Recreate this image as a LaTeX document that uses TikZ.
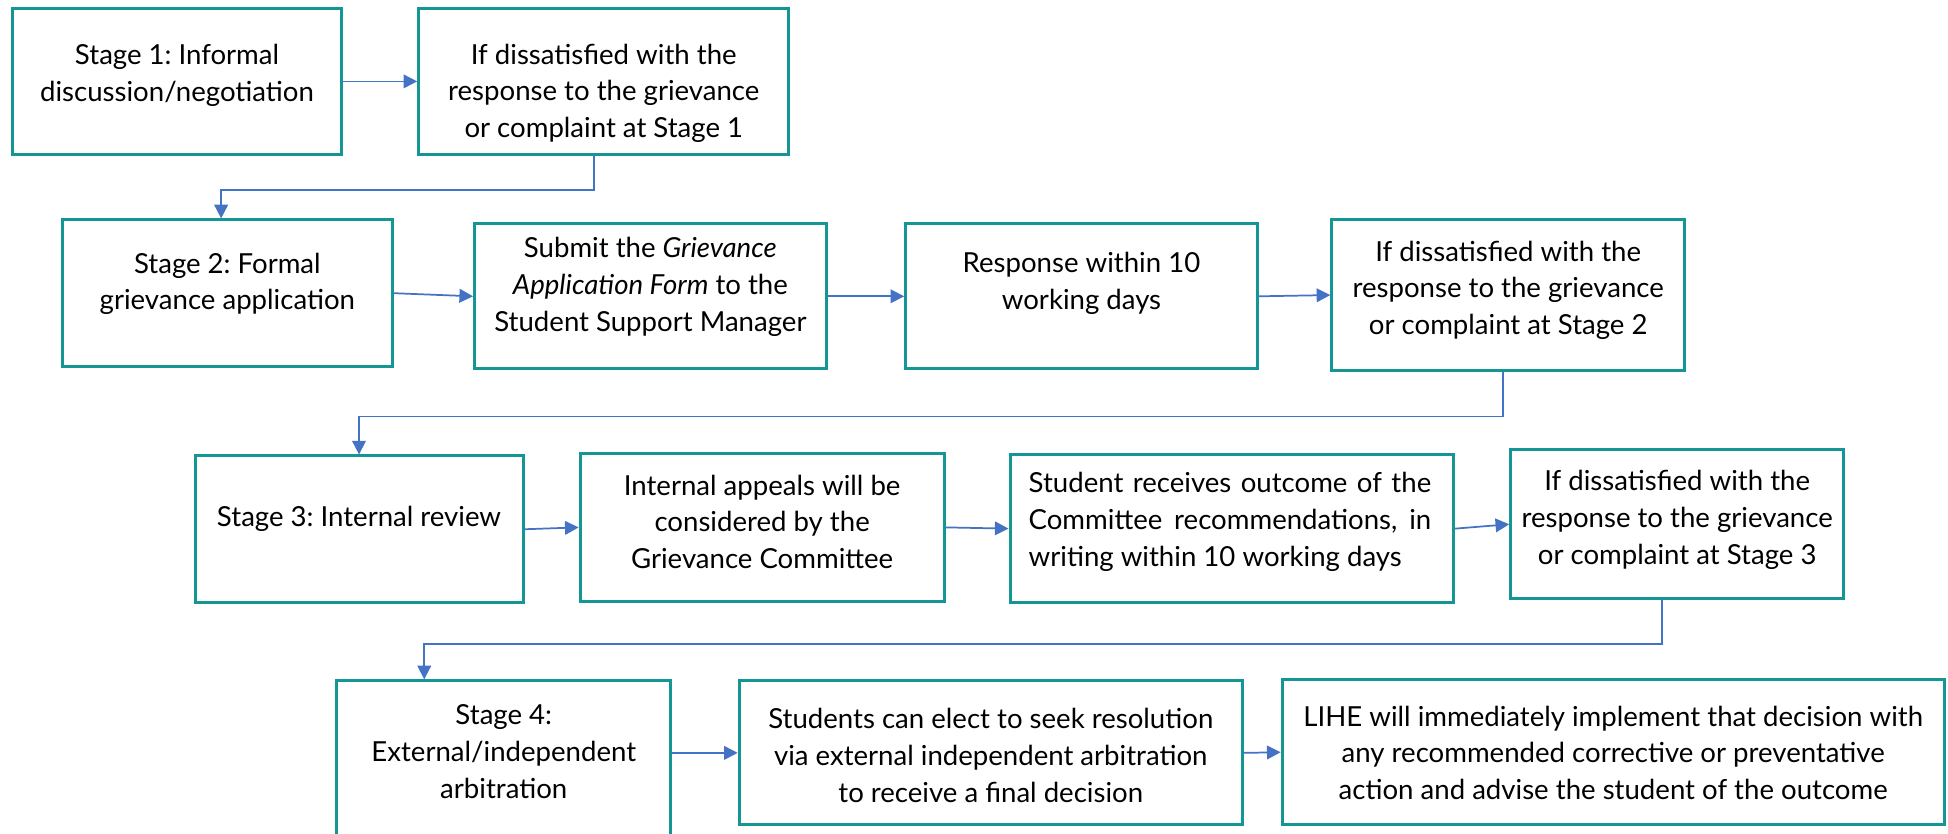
\documentclass[tikz,border=0pt]{standalone}
\usepackage{fontspec}
\setmainfont{Lato}
\usetikzlibrary{arrows.meta}
\definecolor{boxteal}{RGB}{20,150,150}
\definecolor{arrblue}{RGB}{68,114,196}
\begin{document}
\frenchspacing
\begin{tikzpicture}[x=0.5pt,y=-0.5pt,
  box/.style={draw=boxteal,line width=1.2pt,fill=white,inner sep=0pt},
  txt/.style={align=center,inner sep=0pt,font=\fontsize{11.1}{14.75}\selectfont},
  arr/.style={draw=arrblue,line width=0.7pt,-{Triangle[length=5.5pt,width=5.5pt]}}]
\useasboundingbox (0,0) rectangle (1568,671);
% boxes
\node[box,minimum width=132.5pt,minimum height=58.5pt] (b1) at (142.5,65.5) {};
\node[box,minimum width=149pt,minimum height=58.5pt] (b2) at (486,65.5) {};
\node[box,minimum width=133pt,minimum height=59pt] (b3) at (183,236) {};
\node[box,minimum width=141.5pt,minimum height=58.5pt] (b4) at (523.5,238.5) {};
\node[box,minimum width=141.5pt,minimum height=58.5pt] (b5) at (870.5,238.5) {};
\node[box,minimum width=142pt,minimum height=60.5pt] (b6) at (1214,237.5) {};
\node[box,minimum width=132pt,minimum height=59pt] (b7) at (289,426) {};
\node[box,minimum width=146.5pt,minimum height=59.5pt] (b8) at (613.5,424.5) {};
\node[box,minimum width=178.5pt,minimum height=59.5pt] (b9) at (991.5,425.5) {};
\node[box,minimum width=134pt,minimum height=60pt] (b10) at (1350,422) {};
\node[box,minimum width=134.5pt,minimum height=64pt] (b11) at (405.5,612) {};
\node[box,minimum width=202.5pt,minimum height=58pt] (b12) at (797.5,606) {};
\node[box,minimum width=266.5pt,minimum height=58.5pt] (b13) at (1298.5,605.5) {};
% texts
\node[txt] (t1) at (142.5,60.5) {Stage 1: Informal\\discussion/negotiation};
\node[txt] (t2) at (486,75) {If dissatisfied with the\\response to the grievance\\or complaint at Stage 1};
\node[txt] (t3) at (183,228.5) {Stage 2: Formal\\grievance application};
\node[txt] (t4) at (523.5,231) {Submit the \textit{Grievance}\\\textit{Application Form} to the\\Student Support Manager};
\node[txt] (t5) at (870.5,228) {Response within 10\\working days};
\node[txt] (t6) at (1214,233.5) {If dissatisfied with the\\response to the grievance\\or complaint at Stage 2};
\node[txt] (t7) at (289,418) {Stage 3: Internal review};
\node[txt] (t8) at (613.5,420) {Internal appeals will be\\considered by the\\Grievance Committee};
\node[txt,align=left] (t9) at (990,420) {\makebox[162pt][s]{Student receives outcome of the}\\\makebox[162pt][s]{Committee recommendations, in}\\writing within 10 working days};
\node[txt] (t10) at (1350,418.5) {If dissatisfied with the\\response to the grievance\\or complaint at Stage 3};
\node[txt] (t11) at (405.5,605) {Stage 4:\\External/independent\\arbitration};
\node[txt] (t12) at (797.5,608) {Students can elect to seek resolution\\via external independent arbitration\\to receive a final decision};
\node[txt] (t13) at (1298.5,606) {LIHE will immediately implement that decision with\\any recommended corrective or preventative\\action and advise the student of the outcome};
% connectors
\draw[arr] (b1.east) -- (b2.west);
\draw[arr] ([xshift=-4pt]b2.south) -- ++(0,28) -| ([xshift=-2.5pt]b3.north);
\draw[arr] (b3.east) -- (b4.west);
\draw[arr] (b4.east) -- (b5.west);
\draw[arr] (b5.east) -- (b6.west);
\draw[arr] ([xshift=-2pt]b6.south) -- ++(0,36) -| (b7.north);
\draw[arr] (b7.east) -- (b8.west);
\draw[arr] (b8.east) -- (b9.west);
\draw[arr] (b9.east) -- (b10.west);
\draw[arr] ([xshift=-6pt]b10.south) -- ++(0,35) -| ([xshift=-32pt]b11.north);
\draw[arr] (b11.east |- b12.west) -- (b12.west);
\draw[arr] (b12.east) -- (b13.west);
\end{tikzpicture}
\end{document}
